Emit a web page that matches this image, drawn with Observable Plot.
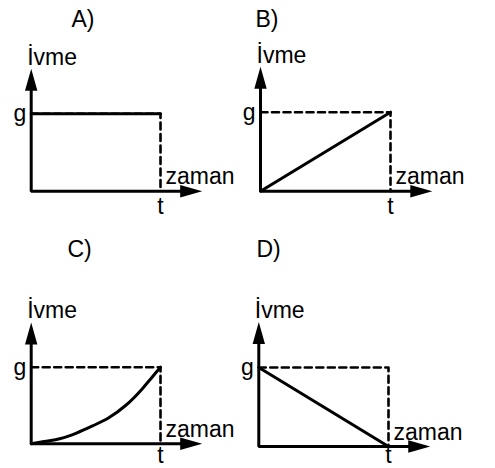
<!DOCTYPE html>
<html>
<head>
<meta charset="utf-8">
<script src="https://cdn.jsdelivr.net/npm/d3@7"></script>
<script src="https://cdn.jsdelivr.net/npm/@observablehq/plot@0.6"></script>
<style>
  html, body { margin: 0; padding: 0; background: white; }
  #root { position: relative; width: 495px; height: 468px; background: white; overflow: hidden; }
  #root svg { position: absolute; }
</style>
</head>
<body>
<div id="root"></div>
<script>
// ---- data ----
const panels = ["A)", "B)", "C)", "D)"];
const axisTitles = ["zaman", "İvme"];
const xTickLabel = ["t"];
const yTickLabel = ["g"];
const xAxisEnd = 1.16;   // arrow base along time axis (t = 1)
const yAxisEnd = 1.31;   // arrow base along acceleration axis (g = 1)
const guide = [[0, 1], [1, 1], [1, 0]];          // dashed g / t reference
const seriesA = [[0, 1], [1, 1]];
const seriesB = [[0, 0], [1, 1]];
const seriesC = [[0, 0], [0.1, 0.03], [0.22, 0.065], [0.35, 0.14], [0.47, 0.23], [0.6, 0.34], [0.73, 0.5], [0.86, 0.72], [0.93, 0.86], [1, 1]];
const seriesD = [[0, 1], [1, 0]];
const series = [seriesA, seriesB, seriesC, seriesD];

// ---- layout (pixels) ----
const layout = [
  {left: 0,   top: 0,   w: 245, h: 230, x0: 30.7, xt: 160, y0: 190.7, yg: 113.3, lx: 71,  ly: 26.5, tdy: 6},
  {left: 245, top: 0,   w: 250, h: 230, x0: 15,   xt: 145, y0: 190.7, yg: 111.7, lx: 10,  ly: 26.5, tdy: 6},
  {left: 0,   top: 230, w: 245, h: 238, x0: 30.7, xt: 160, y0: 213.3, yg: 136.7, lx: 67,  ly: 26.5, tdy: 2.5},
  {left: 245, top: 230, w: 250, h: 238, x0: 13.3, xt: 143, y0: 216,   yg: 137,   lx: 11,  ly: 26.5, tdy: 0.5}
];

const arrowHead = {
  draw(ctx) {
    ctx.moveTo(0, -21);
    ctx.lineTo(6.2, 1);
    ctx.lineTo(-6.2, 1);
    ctx.closePath();
  }
};

function panel(i) {
  const L = layout[i];
  const axis = [[0, yAxisEnd], [0, 0], [xAxisEnd, 0]];
  const svg = Plot.plot({
    width: L.w, height: L.h, margin: 0,
    x: {domain: [0, 1], range: [L.x0, L.xt], axis: null},
    y: {domain: [0, 1], range: [L.y0, L.yg], axis: null},
    style: {fontFamily: "'Liberation Sans', Arial, sans-serif", fontSize: "23px", background: "white", color: "black", overflow: "visible"},
    marks: [
      Plot.line(guide, {stroke: "black", strokeWidth: 2.6, strokeDasharray: "7,4.5"}),
      Plot.line(series[i], {stroke: "black", strokeWidth: 3, curve: i === 2 ? "monotone-x" : "linear"}),
      Plot.line(axis, {stroke: "black", strokeWidth: 3, strokeLinejoin: "miter", strokeLinecap: "square"}),
      Plot.dot([[0, yAxisEnd]], {symbol: arrowHead, fill: "black", stroke: null}),
      Plot.dot([[xAxisEnd, 0]], {symbol: arrowHead, rotate: 90, fill: "black", stroke: null}),
      Plot.text(yTickLabel, {x: 0, y: 1, text: d => d, textAnchor: "end", dx: -5, lineAnchor: "middle"}),
      Plot.text(xTickLabel, {x: 1, y: 0, text: d => d, textAnchor: "middle", dy: L.tdy, lineAnchor: "top"}),
      Plot.text([axisTitles[0]], {x: 1, y: 0, text: d => d, textAnchor: "start", dx: 5, dy: -7, lineAnchor: "bottom"}),
      Plot.text([axisTitles[1]], {x: 0, y: yAxisEnd, text: d => d, textAnchor: "start", dx: -4, dy: -25, lineAnchor: "bottom"}),
      Plot.text([panels[i]], {frameAnchor: "top-left", text: d => d, textAnchor: "start", dx: L.lx, dy: L.ly, lineAnchor: "bottom"})
    ]
  });
  svg.style.left = L.left + "px";
  svg.style.top = L.top + "px";
  return svg;
}

const root = document.getElementById("root");
panels.forEach((p, i) => root.appendChild(panel(i)));
</script>
</body>
</html>
